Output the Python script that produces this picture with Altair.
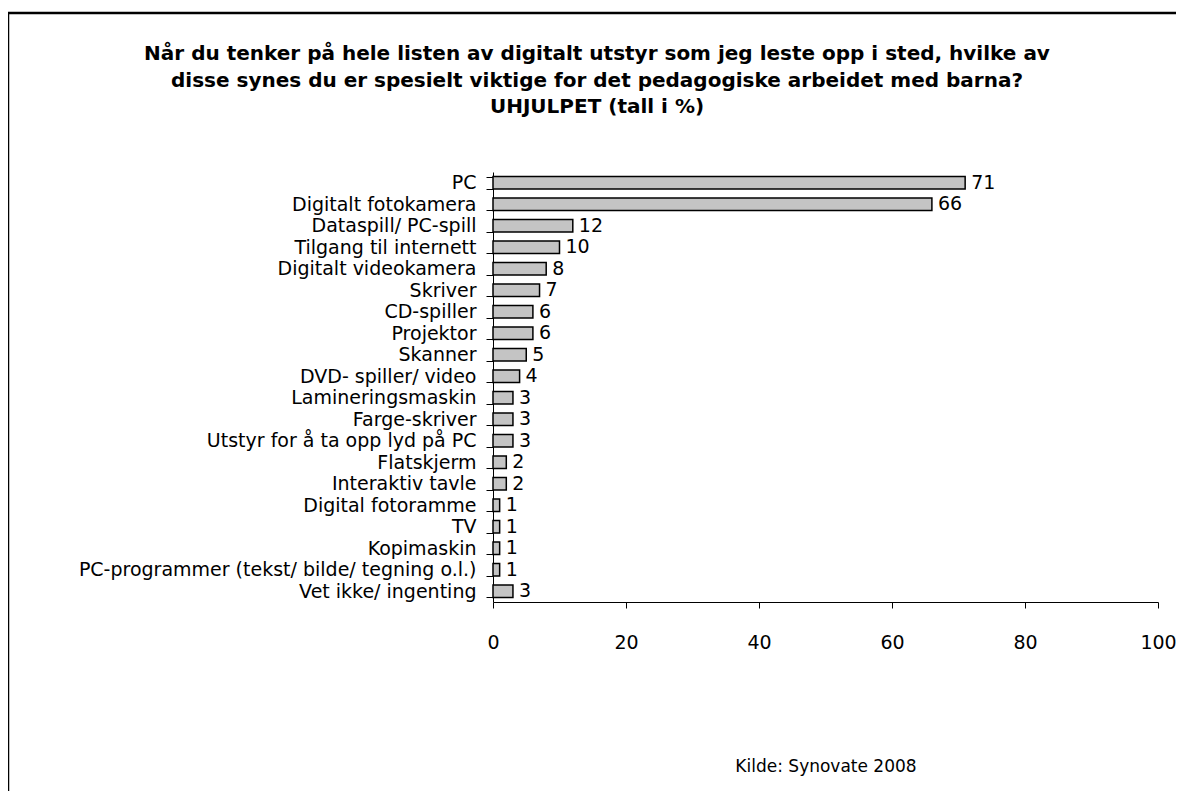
import altair as alt
import pandas as pd

categories = [
    "PC", "Digitalt fotokamera", "Dataspill/ PC-spill", "Tilgang til internett",
    "Digitalt videokamera", "Skriver", "CD-spiller", "Projektor", "Skanner",
    "DVD- spiller/ video", "Lamineringsmaskin", "Farge-skriver",
    "Utstyr for å ta opp lyd på PC", "Flatskjerm", "Interaktiv tavle",
    "Digital fotoramme", "TV", "Kopimaskin",
    "PC-programmer (tekst/ bilde/ tegning o.l.)", "Vet ikke/ ingenting",
]
values = [71, 66, 12, 10, 8, 7, 6, 6, 5, 4, 3, 3, 3, 2, 2, 1, 1, 1, 1, 3]
x_ticks = [0, 20, 40, 60, 80, 100]
title_lines = [
    "Når du tenker på hele listen av digitalt utstyr som jeg leste opp i sted, hvilke av",
    "disse synes du er spesielt viktige for det pedagogiske arbeidet med barna?",
    "UHJULPET (tall i %)",
]
source = "Kilde: Synovate 2008"

df = pd.DataFrame({"kat": categories, "verdi": values})
FONT = "DejaVu Sans"

W, H = 665, 430
PL, PT = 485, 164
SVG_W, SVG_H = 1168, 783

y_enc = alt.Y("kat:N", sort=categories,
              scale=alt.Scale(paddingInner=0.42, paddingOuter=0.21),
              axis=alt.Axis(title=None, domainColor="black", tickColor="black",
                            tickSize=7, tickBand="extent", labelPadding=10,
                            labelFontSize=19, labelFont=FONT, labelColor="black",
                            labelLimit=600))
x_enc = alt.X("verdi:Q", scale=alt.Scale(domain=[0, 100]),
              axis=alt.Axis(title=source, values=x_ticks, grid=False,
                            domainColor="black", tickColor="black", tickSize=6,
                            labelPadding=25, labelFontSize=19, labelFont=FONT,
                            labelColor="black", labelFlush=False,
                            titleFont=FONT, titleFontSize=17,
                            titleFontWeight="normal", titleColor="black",
                            titlePadding=106))

bars = alt.Chart(df).mark_bar(fill="#c4c4c4", stroke="black", strokeWidth=1.5).encode(
    x=x_enc, y=y_enc)
labels = alt.Chart(df).mark_text(align="left", baseline="middle", dx=6,
                                 fontSize=19, font=FONT, color="black").encode(
    x="verdi:Q", y=alt.Y("kat:N", sort=categories), text="verdi:Q")

title_layers = [
    alt.Chart(pd.DataFrame({"t": [line]})).mark_text(
        align="center", baseline="middle", fontSize=20, font=FONT,
        fontWeight="bold", color="black").encode(
        text="t:N", x=alt.value(104), y=alt.value(-118 + 26.5 * i))
    for i, line in enumerate(title_lines)
]

frame_data = alt.Data(values=[{}])
top_rule = alt.Chart(frame_data).mark_rule(color="black", strokeWidth=2.5).encode(
    x=alt.value(-PL), x2=alt.value(SVG_W - PL + 5), y=alt.value(-159))
left_rule = alt.Chart(frame_data).mark_rule(color="black", strokeWidth=2.5).encode(
    x=alt.value(-PL), y=alt.value(-159), y2=alt.value(SVG_H - PT + 5))

chart = alt.layer(bars, labels, *title_layers, top_rule, left_rule).properties(
    width=W, height=H,
    autosize=alt.AutoSizeParams(type="none"),
    padding={"left": PL, "top": PT, "right": SVG_W - PL - W, "bottom": SVG_H - PT - H},
).configure(background="white").configure_view(strokeWidth=0)

chart.save("out.html", embed_options={"renderer": "svg", "actions": False})
